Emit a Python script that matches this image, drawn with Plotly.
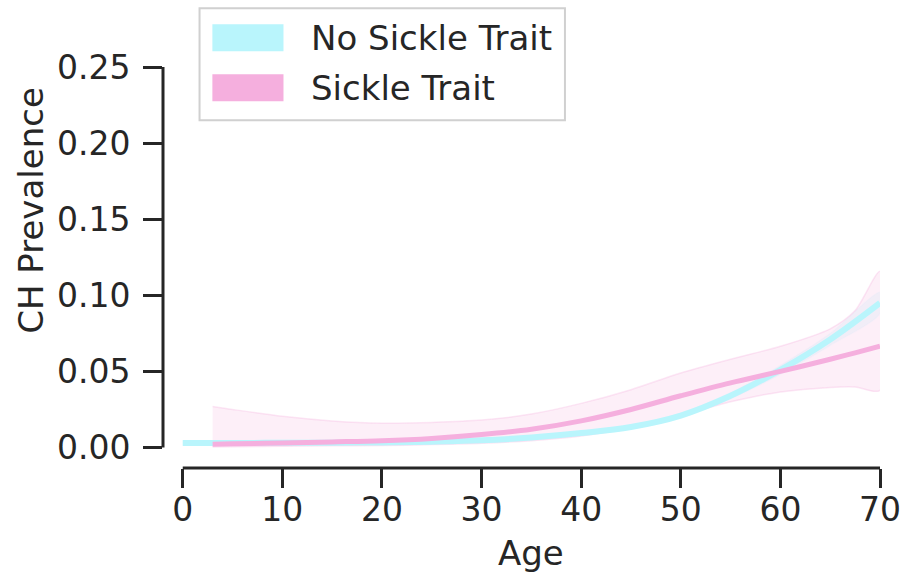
import plotly.graph_objects as go

# ---- data ----
ages_no = [0, 5, 10, 15, 20, 25, 30, 35, 40, 45, 50, 55, 60, 65, 70]
prev_no = [0.0030, 0.0030, 0.0031, 0.0032, 0.0033, 0.0038, 0.0047, 0.0066, 0.0095, 0.0135, 0.021, 0.034, 0.051, 0.071, 0.095]
lo_no = [0.0022, 0.0023, 0.0025, 0.0026, 0.0027, 0.0031, 0.0040, 0.0058, 0.0086, 0.0125, 0.0195, 0.032, 0.048, 0.067, 0.088]
hi_no = [0.0038, 0.0037, 0.0037, 0.0038, 0.0039, 0.0045, 0.0054, 0.0074, 0.0104, 0.0145, 0.0225, 0.036, 0.054, 0.075, 0.102]

ages_st = [3, 5, 10, 15, 20, 25, 30, 35, 40, 45, 50, 55, 60, 65, 67.5, 70]
prev_st = [0.0022, 0.0024, 0.0030, 0.0037, 0.0045, 0.0060, 0.0085, 0.0120, 0.0175, 0.0250, 0.0340, 0.0425, 0.0500, 0.0580, 0.0622, 0.0666]
lo_st = [0.0004, 0.0005, 0.0008, 0.0011, 0.0013, 0.0019, 0.0028, 0.0045, 0.0075, 0.0130, 0.0210, 0.0300, 0.0365, 0.0395, 0.0398, 0.0376]
hi_st = [0.0270, 0.0250, 0.0205, 0.0175, 0.0160, 0.0165, 0.0180, 0.0220, 0.0290, 0.0380, 0.0490, 0.0580, 0.0665, 0.0780, 0.0900, 0.1157]

series_names = ["No Sickle Trait", "Sickle Trait"]
x_ticks = [0, 10, 20, 30, 40, 50, 60, 70]
y_ticks = [0.00, 0.05, 0.10, 0.15, 0.20, 0.25]

CYAN = (185, 245, 252)
PINK = (245, 175, 222)
DARK = "#262626"
FONT = "DejaVu Sans"


def rgba(c, a):
    return f"rgba({c[0]},{c[1]},{c[2]},{a})"


W, H = 913, 585
L, R, T, B = 163, 889, 66.7, 468  # plot area in px
X0PX, Y0PX = 183, 447.5  # pixel of x=0, y=0

# axis ranges so that 0 maps to the offset spine positions
xr = [-(X0PX - L) / (R - X0PX) * 70, 70]
yr = [-(B - Y0PX) / (Y0PX - T) * 0.25, 0.25]

fig = go.Figure()


def band(x, lo, hi, c, edge_a):
    fig.add_trace(go.Scatter(
        x=list(x) + list(x)[::-1], y=list(hi) + list(lo)[::-1],
        fill="toself", fillcolor=rgba(c, 0.2),
        line=dict(color=rgba(c, edge_a), width=1.5, shape="spline", smoothing=0.8),
        mode="lines", hoverinfo="skip", showlegend=False))


band(ages_no, lo_no, hi_no, CYAN, 0.08)
band(ages_st, lo_st, hi_st, PINK, 0.3)
fig.add_trace(go.Scatter(x=ages_no, y=prev_no, mode="lines", line=dict(color=rgba(CYAN, 1), width=6, shape="spline"),
                         name=series_names[0], showlegend=False))
fig.add_trace(go.Scatter(x=ages_st, y=prev_st, mode="lines", line=dict(color=rgba(PINK, 1), width=5, shape="spline"),
                         name=series_names[1], showlegend=False))


def px2paper(px, py):
    return (px - L) / (R - L), (B - py) / (B - T)


shapes = []
# trimmed spines
shapes.append(dict(type="line", xref="x", yref="paper", x0=0, x1=70, y0=0, y1=0,
                   line=dict(color=DARK, width=3)))
shapes.append(dict(type="line", xref="paper", yref="y", x0=0, x1=0, y0=0, y1=0.25,
                   line=dict(color=DARK, width=3)))

# legend box
bx0, by0 = px2paper(200, 120)
bx1, by1 = px2paper(570, 8)
shapes.append(dict(type="rect", xref="paper", yref="paper", x0=bx0, x1=bx1, y0=by0, y1=by1,
                   line=dict(color="#d0d0d0", width=2), fillcolor="rgba(255,255,255,0.8)", layer="above"))
annotations = []
for i, (name, c) in enumerate(zip(series_names, [CYAN, PINK])):
    top = 24 + i * 50
    px0, py0 = px2paper(213, top + 27)
    px1, py1 = px2paper(285, top)
    shapes.append(dict(type="rect", xref="paper", yref="paper", x0=px0, x1=px1, y0=py0, y1=py1,
                       line=dict(width=0), fillcolor=rgba(c, 1), layer="above"))
    tx, ty = px2paper(311, top + 14)
    annotations.append(dict(xref="paper", yref="paper", x=tx, y=ty, xanchor="left", yanchor="middle",
                            text=name, showarrow=False, font=dict(family=FONT, size=34, color=DARK)))

# axis titles
ax, ay = px2paper(536, 553)
annotations.append(dict(xref="paper", yref="paper", x=ax, y=ay, xanchor="center", yanchor="middle",
                        text="Age", showarrow=False, font=dict(family=FONT, size=34, color=DARK)))
yx, yy = px2paper(30, 210)
annotations.append(dict(xref="paper", yref="paper", x=yx, y=yy, xanchor="center", yanchor="middle",
                        text="CH Prevalence", textangle=-90, showarrow=False,
                        font=dict(family=FONT, size=34, color=DARK)))

fig.update_layout(
    width=W, height=H,
    margin=dict(l=L, r=W - R, t=T, b=H - B),
    plot_bgcolor="white", paper_bgcolor="white",
    font=dict(family=FONT, size=33, color=DARK),
    shapes=shapes, annotations=annotations,
    showlegend=False,
)
fig.update_xaxes(range=xr, tickvals=x_ticks, ticks="outside", ticklen=19, tickwidth=3, tickcolor=DARK,
                 showgrid=False, zeroline=False, showline=False, ticklabelstandoff=-7,
                 tickfont=dict(size=33, color=DARK))
fig.update_yaxes(range=yr, tickvals=y_ticks, tickformat=".2f", ticks="outside", ticklen=19, tickwidth=3,
                 tickcolor=DARK, showgrid=False, zeroline=False, showline=False, ticklabelstandoff=6,
                 tickfont=dict(size=33, color=DARK))

fig.write_html("out.html", config={"displayModeBar": False},
               post_script="document.body.style.margin='0';document.body.style.padding='0';")
